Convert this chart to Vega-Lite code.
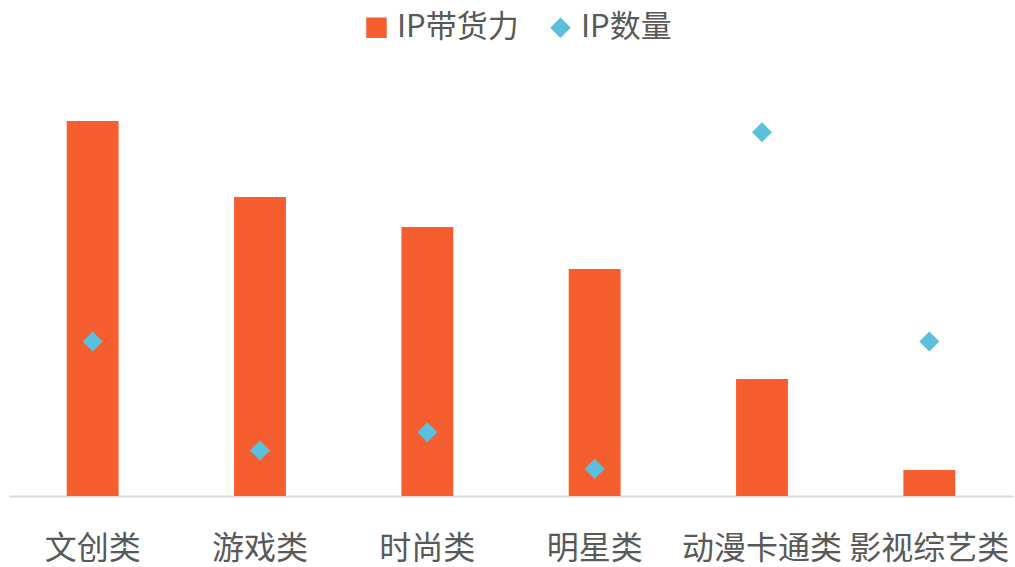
{
  "$schema": "https://vega.github.io/schema/vega-lite/v6.json",
  "autosize": {"type": "none"},
  "width": 1004,
  "height": 400,
  "padding": {"left": 9, "top": 96, "right": 2, "bottom": 71},
  "background": "#ffffff",
  "config": {
    "view": {"stroke": null},
    "font": "Noto Sans CJK SC"
  },
  "data": {
    "values": [
      {"cat": "文创类", "series": "IP带货力", "value": 37.5},
      {"cat": "游戏类", "series": "IP带货力", "value": 29.9},
      {"cat": "时尚类", "series": "IP带货力", "value": 26.9},
      {"cat": "明星类", "series": "IP带货力", "value": 22.7},
      {"cat": "动漫卡通类", "series": "IP带货力", "value": 11.7},
      {"cat": "影视综艺类", "series": "IP带货力", "value": 2.6},
      {"cat": "文创类", "series": "IP数量", "value": 17},
      {"cat": "游戏类", "series": "IP数量", "value": 5},
      {"cat": "时尚类", "series": "IP数量", "value": 7},
      {"cat": "明星类", "series": "IP数量", "value": 3},
      {"cat": "动漫卡通类", "series": "IP数量", "value": 40},
      {"cat": "影视综艺类", "series": "IP数量", "value": 17}
    ]
  },
  "encoding": {
    "x": {
      "field": "cat",
      "type": "nominal",
      "sort": null,
      "scale": {"paddingInner": 0.69, "paddingOuter": 0.345},
      "axis": {
        "title": null,
        "labelAngle": 0,
        "labelOverlap": false,
        "labelLimit": 0,
        "labelFontSize": 32,
        "labelColor": "#595959",
        "labelFont": "Noto Sans CJK SC",
        "labelPadding": 37,
        "ticks": false,
        "domainColor": "#d9d9d9",
        "domainWidth": 2,
        "grid": false
      }
    }
  },
  "layer": [
    {
      "transform": [{"filter": "datum.series === 'IP带货力'"}],
      "mark": {"type": "bar", "color": "#f75e2f"},
      "encoding": {
        "y": {"field": "value", "type": "quantitative", "scale": {"domain": [0, 40], "nice": false}, "axis": null},
        "color": {
          "field": "series",
          "type": "nominal",
          "scale": {"domain": ["IP带货力", "IP数量"], "range": ["#f75e2f", "#5bc0de"]},
          "legend": {
            "title": null,
            "orient": "none",
            "direction": "horizontal",
            "legendX": 352,
            "legendY": -84,
            "labelFontSize": 31,
            "labelColor": "#595959",
            "labelFont": "Noto Sans CJK SC",
            "labelOffset": 5,
            "columnPadding": 26,
            "symbolSize": 420,
            "symbolStrokeWidth": 0,
            "symbolOpacity": 1
          }
        }
      }
    },
    {
      "transform": [{"filter": "datum.series === 'IP数量'"}],
      "mark": {"type": "point", "filled": true, "opacity": 1, "size": 400, "shape": "diamond"},
      "encoding": {
        "y": {"field": "value", "type": "quantitative", "scale": {"domain": [0, 44], "nice": false}, "axis": null},
        "color": {
          "field": "series",
          "type": "nominal",
          "scale": {"domain": ["IP带货力", "IP数量"], "range": ["#f75e2f", "#5bc0de"]}
        },
        "shape": {
          "field": "series",
          "type": "nominal",
          "scale": {"domain": ["IP带货力", "IP数量"], "range": ["square", "diamond"]},
          "legend": {
            "title": null,
            "orient": "none",
            "direction": "horizontal",
            "legendX": 352,
            "legendY": -84,
            "labelFontSize": 31,
            "labelColor": "#595959",
            "labelFont": "Noto Sans CJK SC",
            "labelOffset": 5,
            "columnPadding": 26,
            "symbolSize": 420,
            "symbolStrokeWidth": 0,
            "symbolOpacity": 1
          }
        }
      }
    }
  ],
  "resolve": {"scale": {"y": "independent"}}
}
